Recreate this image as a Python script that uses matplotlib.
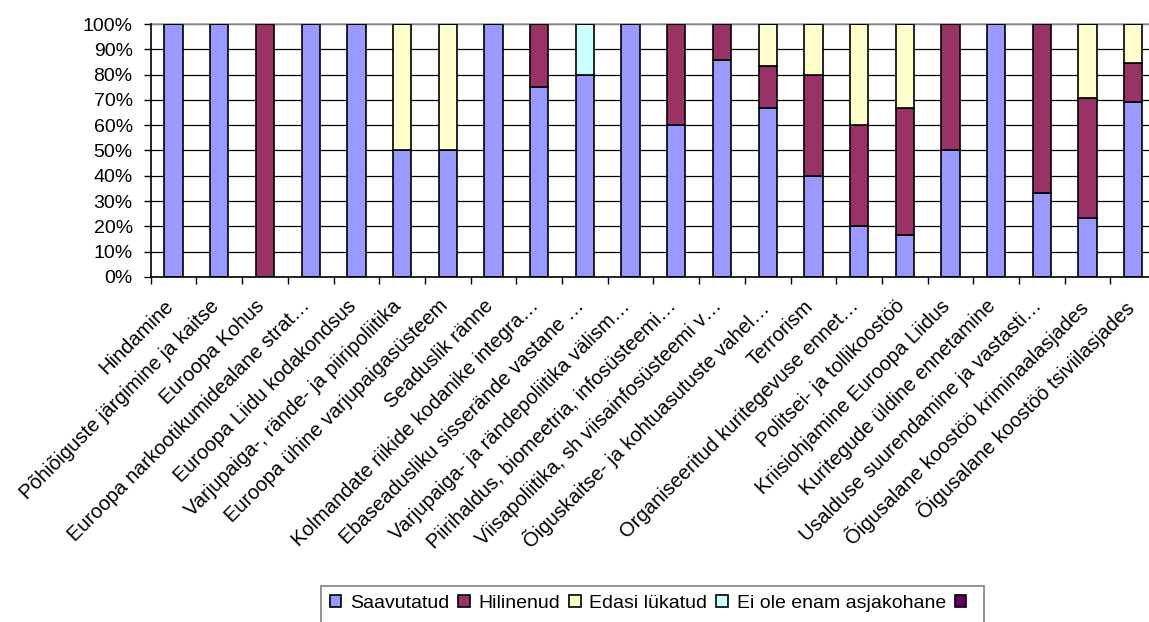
import numpy as np
import matplotlib
matplotlib.use("Agg")
import matplotlib.pyplot as plt
from matplotlib.patches import Rectangle
from matplotlib.ticker import PercentFormatter, FixedLocator

plt.rcParams['font.family'] = ['Liberation Sans', 'DejaVu Sans']

categories = [
    "Hindamine",
    "Põhiõiguste järgimine ja kaitse",
    "Euroopa Kohus",
    "Euroopa narkootikumidealane strat…",
    "Euroopa Liidu kodakondsus",
    "Varjupaiga-, rände- ja piiripoliitika",
    "Euroopa ühine varjupaigasüsteem",
    "Seaduslik ränne",
    "Kolmandate riikide kodanike integra…",
    "Ebaseadusliku sisserände vastane …",
    "Varjupaiga- ja rändepoliitika välism…",
    "Piirihaldus, biomeetria, infosüsteemi…",
    "Viisapoliitika, sh viisainfosüsteemi v…",
    "Õiguskaitse- ja kohtuasutuste vahel…",
    "Terrorism",
    "Organiseeritud kuritegevuse ennet…",
    "Politsei- ja tollikoostöö",
    "Kriisiohjamine Euroopa Liidus",
    "Kuritegude üldine ennetamine",
    "Usalduse suurendamine ja vastasti…",
    "Õigusalane koostöö kriminaalasjades",
    "Õigusalane koostöö tsiviilasjades",
]

# share of measures per status, percent
saavutatud = [100, 100, 0, 100, 100, 50, 50, 100, 75, 80, 100, 60, 85.7, 66.7, 40, 20, 16.7, 50, 100, 33.3, 23.5, 69.2]
hilinenud = [0, 0, 100, 0, 0, 0, 0, 0, 25, 0, 0, 40, 14.3, 16.7, 40, 40, 50, 50, 0, 66.7, 47.1, 15.4]
edasi = [0, 0, 0, 0, 0, 50, 50, 0, 0, 0, 0, 0, 0, 16.6, 20, 40, 33.3, 0, 0, 0, 29.4, 15.4]
ei_ole = [0, 0, 0, 0, 0, 0, 0, 0, 0, 20, 0, 0, 0, 0, 0, 0, 0, 0, 0, 0, 0, 0]
muu = [0] * 22

series_names = ["Saavutatud", "Hilinenud", "Edasi lükatud", "Ei ole enam asjakohane", ""]
series_vals = [saavutatud, hilinenud, edasi, ei_ole, muu]
series_cols = ["#9999FF", "#993366", "#FFFFCC", "#CCFFFF", "#660066"]

fig = plt.figure(figsize=(11.49, 6.22), dpi=100)
ax = fig.add_axes([0.1312, 0.5547, 0.875, 0.4067])

x = np.arange(len(categories))
bottom = np.zeros(len(categories))
handles = []
for vals, col in zip(series_vals, series_cols):
    vals = np.array(vals, dtype=float)
    b = ax.bar(x, vals, 0.4, bottom=bottom, color=col, edgecolor="black",
               linewidth=1.2, zorder=1)
    handles.append(b)
    bottom += vals

ax.set_xlim(-0.5, len(categories) - 0.5)
ax.set_ylim(0, 100)
ax.set_yticks(np.arange(0, 101, 10))
ax.yaxis.set_major_formatter(PercentFormatter(decimals=0))
ax.set_axisbelow(True)
ax.yaxis.grid(True, color="black", linewidth=0.9)

# labels sit a little left of the bar centre
ax.set_xticks(x - 0.22)
ax.set_xticklabels(categories, rotation=45, ha="right", va="top",
                   rotation_mode="anchor")
ax.xaxis.set_minor_locator(FixedLocator(np.arange(-0.5, len(categories), 1)))
ax.tick_params(axis="x", which="major", length=0, pad=14, labelsize=14.5)
ax.tick_params(axis="x", which="minor", length=5, width=1, direction="out")
ax.tick_params(axis="y", length=5, width=1, direction="out", pad=8, labelsize=14)

for s in ("left", "bottom"):
    ax.spines[s].set_color("black")
    ax.spines[s].set_linewidth(1.2)
ax.spines["right"].set_visible(False)
ax.spines["top"].set_color("#a0a0a0")
ax.spines["top"].set_linewidth(1.2)
ax.spines["top"].set_zorder(0.7)

leg = fig.legend(handles, series_names, loc="upper left",
                 bbox_to_anchor=(321 / 1149, 1 - 586 / 622), ncol=5,
                 fontsize=14, frameon=False,
                 handlelength=0.6, handleheight=0.6,
                 handletextpad=0.45, columnspacing=0.45, borderpad=0.45,
                 borderaxespad=0)

# legend frame runs off the bottom edge of the figure
fig.canvas.draw()
bb = leg.get_window_extent().transformed(fig.transFigure.inverted())
fig.patches.append(Rectangle((bb.x0, -0.1), bb.width, bb.y1 + 0.1,
                             transform=fig.transFigure, fill=False,
                             edgecolor="#808080", linewidth=1.2))

fig.savefig("out.png", dpi=100)
